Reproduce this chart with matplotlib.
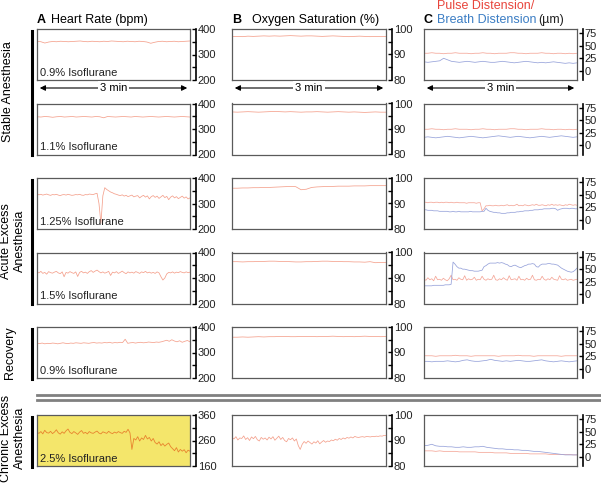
import numpy as np
import matplotlib
matplotlib.use("Agg")
import matplotlib.pyplot as plt
from matplotlib.lines import Line2D
from matplotlib.patches import FancyArrowPatch

plt.rcParams['font.family'] = ['Liberation Sans', 'DejaVu Sans']

# ---------------- data ----------------
row_labels = ["Stable Anesthesia", "Acute Excess\nAnesthesia", "Recovery", "Chronic Excess\nAnesthesia"]
dose_labels = ["0.9% Isoflurane", "1.1% Isoflurane", "1.25% Isoflurane", "1.5% Isoflurane",
               "0.9% Isoflurane", "2.5% Isoflurane"]
col_titles = ["Heart Rate (bpm)", "Oxygen Saturation (%)"]

hr_ticks = [400, 300, 200]
hr_ticks_chronic = [360, 260, 160]
spo2_ticks = [100, 90, 80]
dist_ticks = [75, 50, 25, 0]

hr_1 = [352,350,345,349,351,350,352,351,350,351,352,353,351,350,352,351,350,352,351,353,
        352,351,350,352,351,350,352,351,349,344,348,351,352,350,351,352,350,351,352,353]
hr_2 = [348,347,349,348,346,348,349,347,348,349,347,348,349,348,347,349,348,344,349,348,
        347,348,349,348,347,349,348,347,348,349,348,347,348,349,348,347,348,349,348,347]
hr_3 = [338,334,336,333,335,337,334,332,335,334,336,333,331,334,335,333,336,334,332,333,
        335,334,336,333,332,335,334,337,336,335,338,340,
        300,222,330,362,355,350,345,342,338,336,333,
        331,334,329,332,327,330,333,326,329,331,322,328,332,325,330,318,327,331,324,329,
        320,326,332,323,328,315,325,330,322,327,319,324,329,321,326,318,322]
hr_4 = [324,320,326,318,322,315,325,321,319,323,326,320,317,324,305,322,319,325,321,318,
        324,306,322,326,320,323,318,325,329,322,327,331,325,320,324,319,322,326,310,323,
        320,325,318,322,327,321,317,324,320,323,319,325,322,318,324,321,326,320,323,319,
        322,318,324,320,305,292,300,316,322,320,324,319,323,321,325,322,320,324,321,323]
hr_5 = [336,335,337,334,336,335,337,336,334,336,338,336,335,337,336,338,337,336,338,337,
        336,338,339,337,338,337,339,338,340,337,339,338,340,339,352,336,338,339,337,339,
        340,338,339,341,340,339,341,340,342,345,348,344,350,345,342,346,340,344,347,342]
hr_6 = [292,288,295,286,300,291,289,296,287,293,302,290,285,294,288,298,305,292,287,295,
        290,284,293,299,288,292,286,295,290,288,293,297,289,286,294,291,288,296,290,287,
        293,289,295,291,288,296,292,304,290,
        225,268,262,275,258,270,264,280,266,272,258,268,
        252,246,255,240,248,238,245,250,236,
        228,220,232,215,225,218,224,212,222,218]

spo2_1 = [97.0,97.1,97.0,97.2,97.1,97.2,97.3,97.2,97.3,97.2,97.3,97.4,97.3,97.2,97.3,
          97.3,97.2,97.1,97.2,97.3,97.2,97.1,97.0,97.1,97.2,97.1,97.0,97.1,97.0,97.1]
spo2_2 = [96.7,96.6,96.7,96.8,96.7,96.6,96.7,96.8,96.9,96.8,96.7,96.8,96.7,96.6,96.7,
          96.7,96.8,96.7,96.6,96.7,96.8,96.7,96.6,96.7,96.6,96.5,96.6,96.7,96.6,96.6]
spo2_3 = [96.0,96.0,96.1,96.1,96.2,96.2,96.3,96.3,96.4,96.5,96.6,96.7,96.6,95.4,95.6,
          96.3,96.5,96.6,96.7,96.7,96.8,96.8,96.8,96.9,96.9,96.9,97.0,97.0,97.0,97.0]
spo2_4 = [96.4,96.4,96.3,96.4,96.4,96.5,96.5,96.6,96.6,96.5,96.5,96.4,96.3,96.3,96.4,
          96.4,96.5,96.6,96.6,96.5,96.5,96.4,96.4,96.3,96.3,96.2,96.4,96.0,96.1,96.1]
spo2_5 = [96.0,96.0,96.1,96.0,96.1,96.2,96.1,96.2,96.2,96.3,96.3,96.2,96.2,96.3,96.3,
          96.3,96.2,96.3,96.3,96.4,96.3,96.2,96.3,96.2,96.3,96.4,96.3,96.3,96.2,96.3]
spo2_6 = [91.2,90.6,91.5,90.2,91.0,90.8,91.8,90.4,91.1,90.0,91.4,90.7,91.6,90.3,89.8,
          91.2,90.5,91.0,90.2,91.3,90.6,91.5,90.1,90.9,91.7,90.4,91.2,90.0,89.5,90.8,
          90.3,91.0,89.8,90.6,88.0,86.5,88.5,89.6,88.9,89.8,89.2,88.6,89.5,89.0,89.9,
          88.7,89.4,90.0,89.3,89.8,89.6,90.2,89.9,90.5,90.1,90.8,90.4,91.0,90.6,91.2,
          90.9,91.4,91.0,91.6,91.3,91.2,91.4,91.5,91.3,91.6,91.5,91.4,91.6,91.5,91.7,
          91.6,91.8,91.7,92.0,91.9]

pulse_1 = [35,35,36,35,35,34,35,35,36,35,35,35,34,35,35,36,35,35,34,35,
           35,35,36,36,35,35,34,35,35,35,36,35,35,34,35,35,34,35,34,35]
breath_1 = [18,17,18,19,20,25,22,19,18,17,18,19,18,17,18,19,18,17,17,18,
            19,18,17,16,17,18,19,18,17,16,17,16,17,18,17,16,15,16,15,16]
pulse_2 = [32,32,33,32,32,31,32,32,33,32,32,32,31,32,32,33,32,32,31,32,
           32,32,33,33,32,32,31,32,32,32,33,32,32,31,32,32,31,32,31,32]
breath_2 = [16,17,16,15,16,17,18,17,16,15,16,17,18,17,16,15,16,17,18,19,
            18,17,16,17,18,17,16,15,16,17,18,17,16,17,18,19,18,17,16,17]
pulse_3 = [35,35,34,35,35,34,35,35,34,35,34,35,35,34,35,34,34,35,34,34,
           34,34,33,34,34,34,34,33,34,34,18,22,28,28,29,28,28,29,28,28,
           29,28,29,30,28,29,28,29,31,28,29,28,30,29,28,29,30,29,31,29,
           29,30,29,28,30,29,31,29,30,29,30,29,28,30,29,31,30,29,30,29]
breath_3 = [20,20,19,19,19,18,18,18,17,17,17,17,17,16,16,17,16,16,17,16,
            16,16,16,16,17,16,16,16,16,16,17,17,23,19,17,16,15,15,14,14,
            13,13,13,14,14,15,15,15,16,16,17,17,18,18,18,19,19,20,20,20,
            21,21,22,22,22,22,23,23,22,19,21,22,23,23,23,22,23,23,22,22]
pulse_4 = [30,28,33,29,31,27,36,29,30,28,32,29,27,31,38,29,30,28,33,30,
           29,37,28,31,29,30,34,28,30,29,36,30,28,31,29,30,38,29,28,31,
           29,33,30,28,37,29,30,31,28,36,29,30,28,32,29,30,38,29,28,30,
           29,36,30,28,31,29,34,30,29,28,37,30,29,31,28,29,30,28,29,30]
breath_4 = [17,17,17,17,17,18,18,18,18,18,18,19,19,19,20,64,60,55,52,52,
            50,50,49,48,47,47,46,46,46,47,48,55,57,60,62,62,62,62,63,62,
            63,62,60,59,56,55,57,58,56,54,53,55,57,58,60,60,61,60,55,54,
            58,60,60,60,61,61,60,60,59,58,55,52,50,48,46,45,44,45,48,52]
pulse_5 = [26,26,26,25,26,26,26,26,27,26,26,26,25,26,26,26,26,26,26,25,
           26,26,26,26,27,26,26,26,25,26,26,26,26,26,26,25,26,26,26,26]
breath_5 = [15,15,14,15,15,15,16,15,14,15,17,18,16,15,15,16,17,19,17,16,
            15,16,15,16,17,16,15,15,16,17,18,16,15,14,15,16,15,14,15,16]
pulse_6 = [12,12,12,11,12,11,11,11,11,10,10,10,10,10,9,9,9,9,8,8,
           8,8,7,7,7,7,7,6,6,6,6,6,5,5,5,5,5,5,4,4]
breath_6 = [22,23,25,22,21,21,20,20,19,19,20,19,19,20,20,21,19,18,17,16,
            16,15,15,14,14,13,13,12,11,11,10,9,8,7,6,5,4,4,4,4]

hr_rows = [hr_1, hr_2, hr_3, hr_4, hr_5, hr_6]
spo2_rows = [spo2_1, spo2_2, spo2_3, spo2_4, spo2_5, spo2_6]
pulse_rows = [pulse_1, pulse_2, pulse_3, pulse_4, pulse_5, pulse_6]
breath_rows = [breath_1, breath_2, breath_3, breath_4, breath_5, breath_6]

# ---------------- layout ----------------
W, H = 601, 483
fig = plt.figure(figsize=(W / 100, H / 100), dpi=100)
fig.patch.set_facecolor('white')

def fx(x):
    return x / W

def fy(y):
    return 1 - y / H

row_tops = [29, 103.5, 178, 252.5, 327, 415]
ph = 51
cols = [(37, 190), (232, 386), (424, 577)]

trace_col = '#f4a08c'
pulse_col = '#f4a698'
breath_col = '#96a2da'
frame_col = '#5a5a5a'
LW = 0.55

def make_ax(col, row):
    x0, x1 = cols[col]
    yt = row_tops[row]
    ax = fig.add_axes([fx(x0), fy(yt + ph), (x1 - x0) / W, ph / H])
    for s in ax.spines.values():
        s.set_color(frame_col)
        s.set_linewidth(0.9)
    ax.set_xticks([])
    ax.set_yticks([])
    ax.set_xlim(0, 1)
    return ax

def right_axis(ax, ylim, major, minor=None):
    ax2 = ax.twinx()
    ax2.set_ylim(*ylim)
    for s in ['top', 'bottom', 'left']:
        ax2.spines[s].set_visible(False)
    ax2.spines['right'].set_position(('outward', 4))
    ax2.spines['right'].set_linewidth(1.2)
    ax2.spines['right'].set_color('black')
    ax2.set_yticks(major)
    ax2.set_yticklabels([str(v) for v in major])
    if minor is not None:
        ax2.set_yticks(minor, minor=True)
    ax2.tick_params(axis='y', which='both', direction='in', length=3, width=1,
                    labelsize=8, pad=1.5, colors='black')
    ax2.tick_params(axis='y', labelcolor='#222222')
    return ax2

for r in range(6):
    # column A
    ax = make_ax(0, r)
    ylim = (160, 360) if r == 5 else (200, 400)
    vals = hr_rows[r]
    x = np.linspace(0, 1, len(vals))
    if r == 5:
        ax.set_facecolor('#f4e66b')
        ax.plot(x, vals, color='#e8832e', lw=0.6)
    else:
        ax.plot(x, vals, color=trace_col, lw=LW)
    ax.set_ylim(*ylim)
    if r == 5:
        right_axis(ax, ylim, hr_ticks_chronic, [310, 210])
    else:
        right_axis(ax, ylim, hr_ticks, [350, 250])
    ax.text(0.02, 0.04, dose_labels[r], transform=ax.transAxes, fontsize=8,
            ha='left', va='bottom', color='#222222')

    # column B
    ax = make_ax(1, r)
    vals = spo2_rows[r]
    x = np.linspace(0, 1, len(vals))
    ax.plot(x, vals, color=trace_col, lw=LW)
    ax.set_ylim(80, 100)
    right_axis(ax, (80, 100), spo2_ticks, [95, 85])

    # column C
    ax = make_ax(2, r)
    pv = pulse_rows[r]
    bv = breath_rows[r]
    ax.plot(np.linspace(0, 1, len(pv)), pv, color=pulse_col, lw=LW)
    ax.plot(np.linspace(0, 1, len(bv)), bv, color=breath_col, lw=LW)
    ax.set_ylim(-18, 83)
    right_axis(ax, (-18, 83), dist_ticks)

# 3 min arrows under first row
for c in range(3):
    x0, x1 = cols[c]
    yy = fy(88)
    fig.add_artist(FancyArrowPatch(
        (fx(x0), yy), (fx(x1), yy), transform=fig.transFigure,
        arrowstyle='<|-|>', mutation_scale=8, lw=0.8, color='black'))
    fig.text(fx((x0 + x1) / 2), yy, '3 min', ha='center', va='center', fontsize=8,
             bbox=dict(facecolor='white', edgecolor='none', pad=1.5))

# column titles
fig.text(fx(37), fy(20), 'A', fontsize=9, fontweight='bold', ha='left', va='center')
fig.text(fx(51), fy(20), col_titles[0], fontsize=9, ha='left', va='center')
fig.text(fx(232), fy(20), 'B', fontsize=9, fontweight='bold', ha='left', va='center')
fig.text(fx(252), fy(20), col_titles[1], fontsize=9, ha='left', va='center')
fig.text(fx(424), fy(20), 'C', fontsize=9, fontweight='bold', ha='left', va='center')
fig.text(fx(437), fy(6), 'Pulse Distension/', fontsize=9, color='#e8453c', ha='left', va='center')
fig.text(fx(437), fy(20), 'Breath Distension', fontsize=9, color='#3b7dc4', ha='left', va='center')
fig.text(fx(538), fy(20), '(\u00b5m)', fontsize=9, color='#222222', ha='left', va='center')

# row group labels and bars
groups = [(29, 155, 8, 92, row_labels[0]),
          (178, 304, 13, 241, row_labels[1]),
          (327, 379, 10, 353, row_labels[2]),
          (415, 467, 13, 438, row_labels[3])]
for y0, y1, xt, yc, lab in groups:
    fig.add_artist(Line2D([fx(32), fx(32)], [fy(y0 + 2), fy(y1)], lw=2.2, color='black'))
    fig.text(fx(xt), fy(yc), lab, rotation=90, ha='center', va='center',
             fontsize=9, multialignment='center', linespacing=1.15)

# double separator lines
for yy in [395, 400]:
    fig.add_artist(Line2D([fx(37), 1.0], [fy(yy), fy(yy)], lw=2.0, color='#808080'))

fig.savefig('out.png', dpi=100)
